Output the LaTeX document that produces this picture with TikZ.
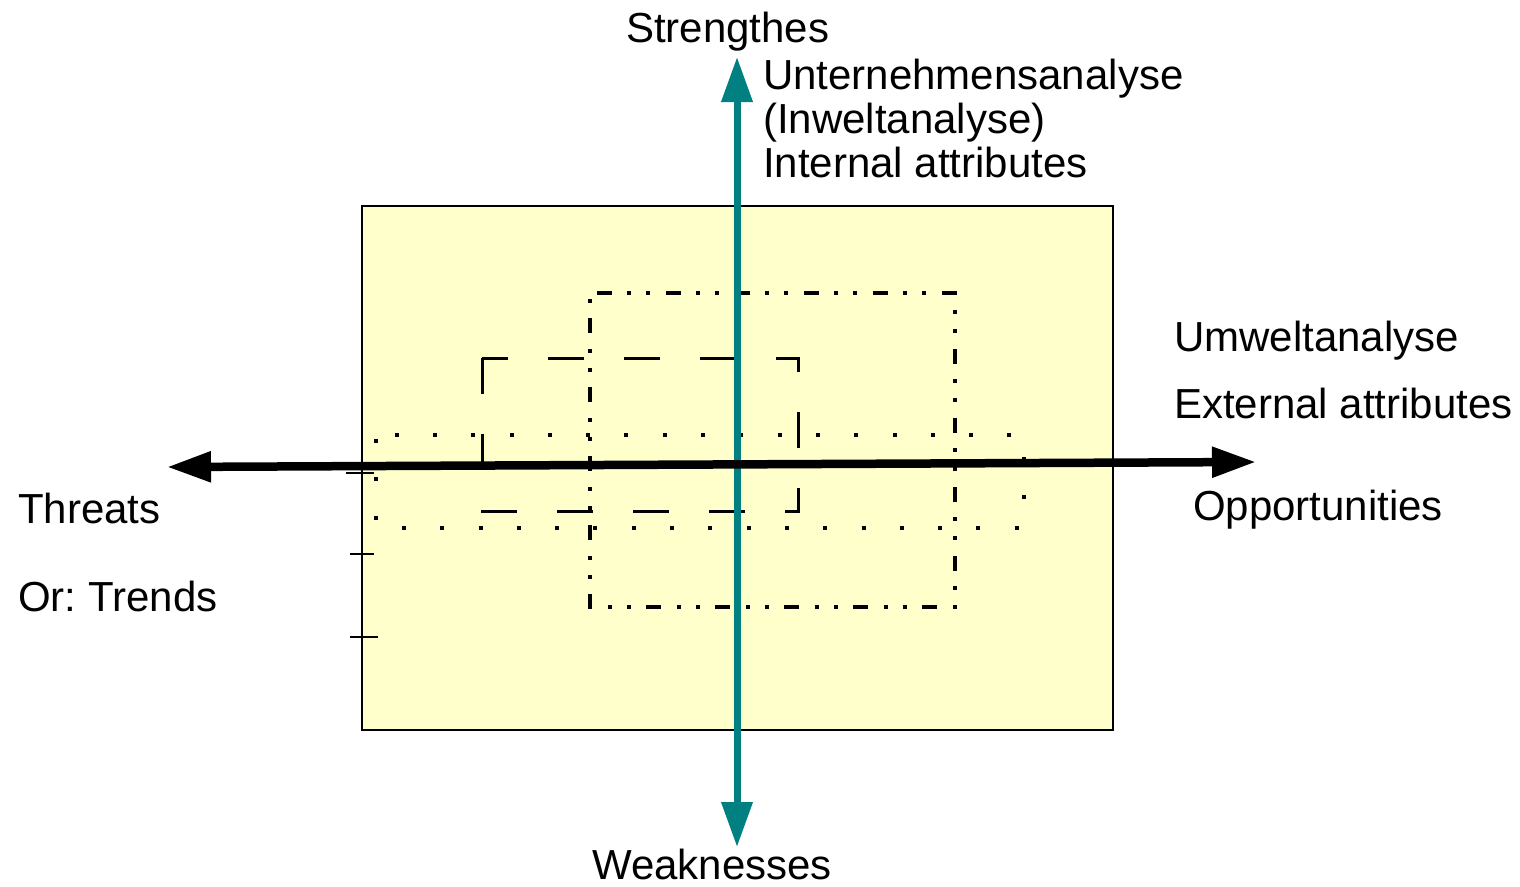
\documentclass[tikz,border=0pt]{standalone}
\usepackage{fontspec}
\setmainfont{Liberation Sans}
\usetikzlibrary{arrows.meta}
\definecolor{paneyellow}{HTML}{FFFFCC}
\definecolor{axisteal}{HTML}{008080}
\begin{document}
\frenchspacing
\begin{tikzpicture}[x=1pt,y=-1pt,
  lbl/.style={inner sep=0pt, anchor=base west, font=\fontsize{42}{44.5}\selectfont},
  frame/.style={draw=black, line width=2.5pt, fill=paneyellow},
  dotbox/.style={draw=black, line width=4pt, dash pattern=on 4pt off 34.3pt, dash phase=34.3pt},
  dashbox/.style={draw=black, line width=3pt, dash pattern=on 36pt off 40pt},
  dashdotbox/.style={draw=black, line width=3.5pt, dash pattern=on 15pt off 16pt on 4pt off 15pt on 4pt off 15pt, dash phase=44pt},
  tickmark/.style={draw=black, line width=1.5pt},
  haxis/.style={draw=black, line width=8.5pt, {Triangle[length=44pt,width=29pt]}-{Triangle[length=44pt,width=29pt]}},
  vaxis/.style={draw=axisteal, line width=7pt, {Triangle[length=45pt,width=30pt]}-{Triangle[length=45pt,width=30pt]}}
]
\useasboundingbox (0,0) rectangle (1520,886);

% main panel
\path[frame] (362,206) rectangle (1113,730);

% inner boxes
\path[dotbox] (376,435) rectangle (1024,528);
\path[dashbox] (482,358) rectangle (798,511);
\path[dashdotbox] (590,293) rectangle (955,607);

% tick marks
\path[tickmark] (346,473) -- (374,473);
\path[tickmark] (350,554) -- (374,554);
\path[tickmark] (350,637) -- (378,637);

% axes
\coordinate (vtop) at (737,57);
\coordinate (vbot) at (737,847);
\path[vaxis] (vtop) -- (vbot);

\coordinate (hleft) at (167,467);
\coordinate (hright) at (1256,462);
\path[haxis] (hleft) -- (hright);

% labels
\node[lbl] (strength) at (626,42) {Strengthes};
\node[lbl] (int1) at (763,89) {Unternehmensanalyse};
\node[lbl] (int2) at (763,133) {(Inweltanalyse)};
\node[lbl] (int3) at (763,177) {Internal attributes};
\node[lbl] (ext1) at (1174,351) {Umweltanalyse};
\node[lbl] (ext2) at (1174,418) {External attributes};
\node[lbl] (opp) at (1193,520) {Opportunities};
\node[lbl] (threat) at (18,523) {Threats};
\node[lbl] (trend) at (18,611) {Or: Trends};
\node[lbl] (weak) at (592,879) {Weaknesses};
\end{tikzpicture}
\end{document}
